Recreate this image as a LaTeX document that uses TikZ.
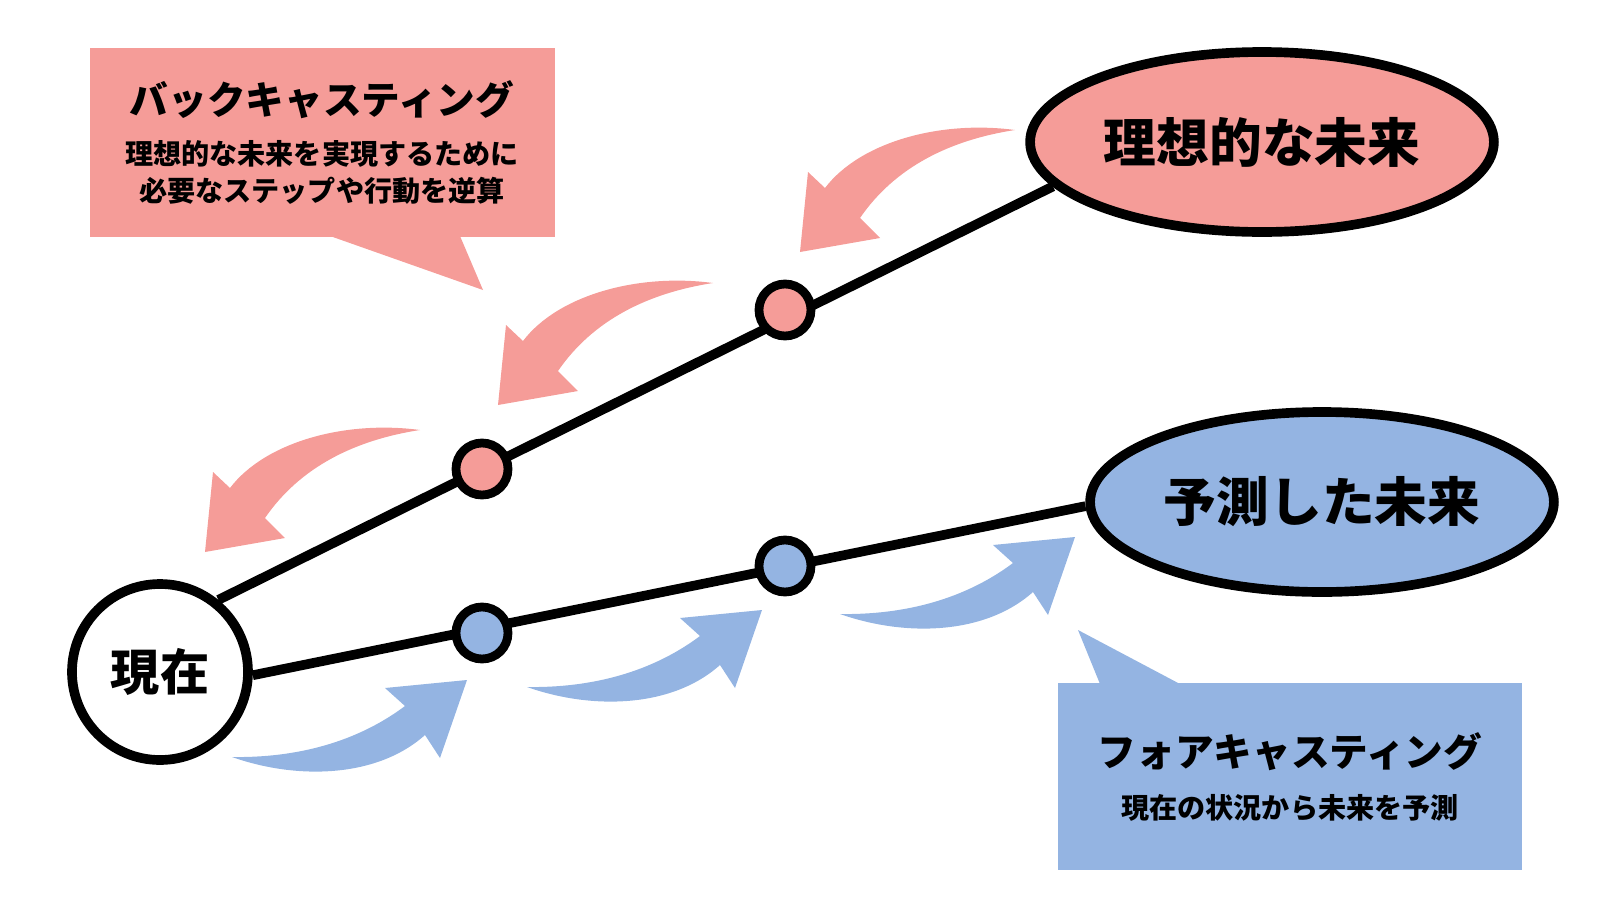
\documentclass[tikz,border=0pt]{standalone}
\usepackage{fontspec}
\setmainfont{Noto Sans CJK JP}
\usetikzlibrary{shapes.geometric,backgrounds}
\definecolor{pk}{HTML}{F59C98}
\definecolor{bl}{HTML}{94B4E2}
\tikzset{
  edge/.style={line width=5.5pt},
  dotpk/.style={circle,draw,line width=5pt,fill=pk,minimum size=52*0.02cm,inner sep=0},
  dotbl/.style={dotpk,fill=bl},
  goal/.style={ellipse,draw,line width=5.5pt,minimum width=460*0.02cm,minimum height=180*0.02cm,font=\fontsize{30}{34}\selectfont\bfseries},
}
\begin{document}
\begin{tikzpicture}[x=0.02cm,y=-0.02cm]
\useasboundingbox (0,0) rectangle (1600,900);
% pink callout
\fill[pk] (90,48) rectangle (555,237);
\fill[pk] (330,236) -- (460,236) -- (483,290) -- cycle;
\node[font=\fontsize{22}{26}\selectfont\bfseries] (bt) at (322,100) {バックキャスティング};
\node[font=\fontsize{16}{21}\selectfont\bfseries,align=center] (bs) at (322,172) {理想的な未来を実現するために\\必要なステップや行動を逆算};
% blue callout
\fill[bl] (1058,683) rectangle (1522,870);
\fill[bl] (1100,684) -- (1180,684) -- (1078,630) -- cycle;
\node[font=\fontsize{22}{26}\selectfont\bfseries] (ft) at (1290,752) {フォアキャスティング};
\node[font=\fontsize{16}{20}\selectfont\bfseries] (fs) at (1290,808) {現在の状況から未来を予測};
% pink arrows
\foreach \tx/\ty in {800/252, 498/405, 205/552}{
  \fill[pk,shift={(\tx,\ty)}] (0,0) -- (8,-80) -- (25,-64) .. controls (60,-110) and (140,-132) .. (215,-122)
    .. controls (150,-112) and (95,-85) .. (60,-34) -- (80,-14) -- cycle;
}
% blue arrows
\foreach \tx/\ty in {467/680, 762/610, 1075/537}{
  \fill[bl,shift={(\tx,\ty)}] (0,0) -- (-82,8) -- (-62,26) .. controls (-110,62) and (-170,78) .. (-235,77)
    .. controls (-170,100) and (-90,98) .. (-42,55) -- (-27,78) -- cycle;
}
% nodes
\node[circle,draw,line width=5.5pt,fill=white,minimum size=176*0.02cm,font=\fontsize{28}{32}\selectfont\bfseries] (now) at (160,672) {現在};
\node[goal,fill=pk] (ideal) at (1262,142) {理想的な未来};
\node[goal,fill=bl] (pred) at (1322,502) {予測した未来};
\node[dotpk] (p1) at (785,310) {};
\node[dotpk] (p2) at (482,469) {};
\node[dotbl] (b1) at (482,633) {};
\node[dotbl] (b2) at (785,566) {};
\begin{scope}[on background layer]
\draw[edge] (now.51) -- (ideal.192);
\draw[edge] (now.-2) -- (pred.181);
\end{scope}
\end{tikzpicture}
\end{document}
